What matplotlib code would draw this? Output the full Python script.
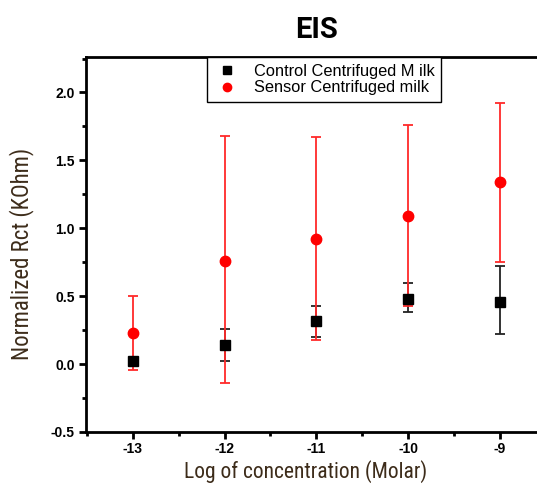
import matplotlib.pyplot as plt
from matplotlib.lines import Line2D
from matplotlib.ticker import MultipleLocator

# log concentration (Molar)
conc = [-13, -12, -11, -10, -9]

# control centrifuged milk
control = [0.02, 0.14, 0.32, 0.48, 0.46]
control_lo = [0.02, 0.02, 0.20, 0.38, 0.22]
control_hi = [0.02, 0.26, 0.43, 0.60, 0.72]

# sensor centrifuged milk
sensor = [0.23, 0.76, 0.92, 1.09, 1.34]
sensor_lo = [-0.04, -0.14, 0.18, 0.43, 0.75]
sensor_hi = [0.50, 1.68, 1.67, 1.76, 1.92]

x_ticks = [-13, -12, -11, -10, -9]
x_tick_labels = ["-13", "-12", "-11", "-10", "-9"]
y_ticks = [-0.5, 0.0, 0.5, 1.0, 1.5, 2.0]
y_tick_labels = ["-0.5", "0.0", "0.5", "1.0", "1.5", "2.0"]

narrow = ["Roboto Condensed", "Liberation Sans Narrow", "DejaVu Sans"]

fig = plt.figure(figsize=(5.37, 4.88), dpi=100)
ax = fig.add_axes([0.160, 0.1148, 0.84, 0.768])

c_err = [[c - l for c, l in zip(control, control_lo)],
         [h - c for c, h in zip(control, control_hi)]]
s_err = [[s - l for s, l in zip(sensor, sensor_lo)],
         [h - s for s, h in zip(sensor, sensor_hi)]]

ax.errorbar(conc, control, yerr=c_err, fmt="s", color="black", ecolor="#222222",
            markersize=7, elinewidth=1.3, capsize=3.5, capthick=1.3)
ax.errorbar(conc, sensor, yerr=s_err, fmt="o", color="#ff0000", ecolor="#ff2a2a",
            markersize=7.5, elinewidth=1.3, capsize=3.5, capthick=1.3)

ax.set_xlim(-13.51, -8.597)
ax.set_ylim(-0.5, 2.26)

ax.set_xticks(x_ticks)
ax.set_xticklabels(x_tick_labels)
ax.set_yticks(y_ticks)
ax.set_yticklabels(y_tick_labels)
ax.xaxis.set_minor_locator(MultipleLocator(0.5))
ax.yaxis.set_minor_locator(MultipleLocator(0.25))

for lab in ax.get_xticklabels() + ax.get_yticklabels():
    lab.set_fontweight("bold")
    lab.set_fontsize(10)
    lab.set_family(["Liberation Sans", "DejaVu Sans"])

ax.tick_params(which="major", direction="out", length=5, width=2)
ax.tick_params(which="minor", direction="out", length=3, width=2)
ax.tick_params(axis="x", which="major", pad=2)
ax.tick_params(axis="y", which="major", pad=3)
ax.tick_params(top=False, right=False)

for side in ["left", "bottom", "top"]:
    ax.spines[side].set_linewidth(2)
ax.spines["right"].set_visible(False)

ax.set_ylabel("Normalized Rct (KOhm)", fontsize=16.5, color="#3d2c1a",
              family=narrow)
ax.yaxis.set_label_coords(-0.115, 0.475)
ax.set_xlabel("Log of concentration (Molar)", fontsize=15.5, color="#3d2c1a",
              family=narrow)
ax.xaxis.set_label_coords(0.488, -0.075)
ax.set_title("EIS", fontsize=21, fontweight="bold", x=0.512,
             family=["Roboto", "DejaVu Sans"], pad=14)

handles = [Line2D([], [], ls="none", marker="s", color="black", markersize=6),
           Line2D([], [], ls="none", marker="o", color="#ff0000", markersize=6)]
labels = ["Control Centrifuged M ilk", "Sensor Centrifuged milk"]
leg = ax.legend(handles, labels, loc="upper left", bbox_to_anchor=(0.268, 1.0),
                prop={"family": ["Liberation Sans", "DejaVu Sans"], "size": 11.8},
                frameon=True, fancybox=False, borderpad=0.4, labelspacing=0.1,
                handletextpad=0.75, borderaxespad=0, handlelength=1.7,
                framealpha=1)
leg.get_frame().set_edgecolor("black")
leg.get_frame().set_linewidth(1)

fig.savefig("out.png", dpi=100)
